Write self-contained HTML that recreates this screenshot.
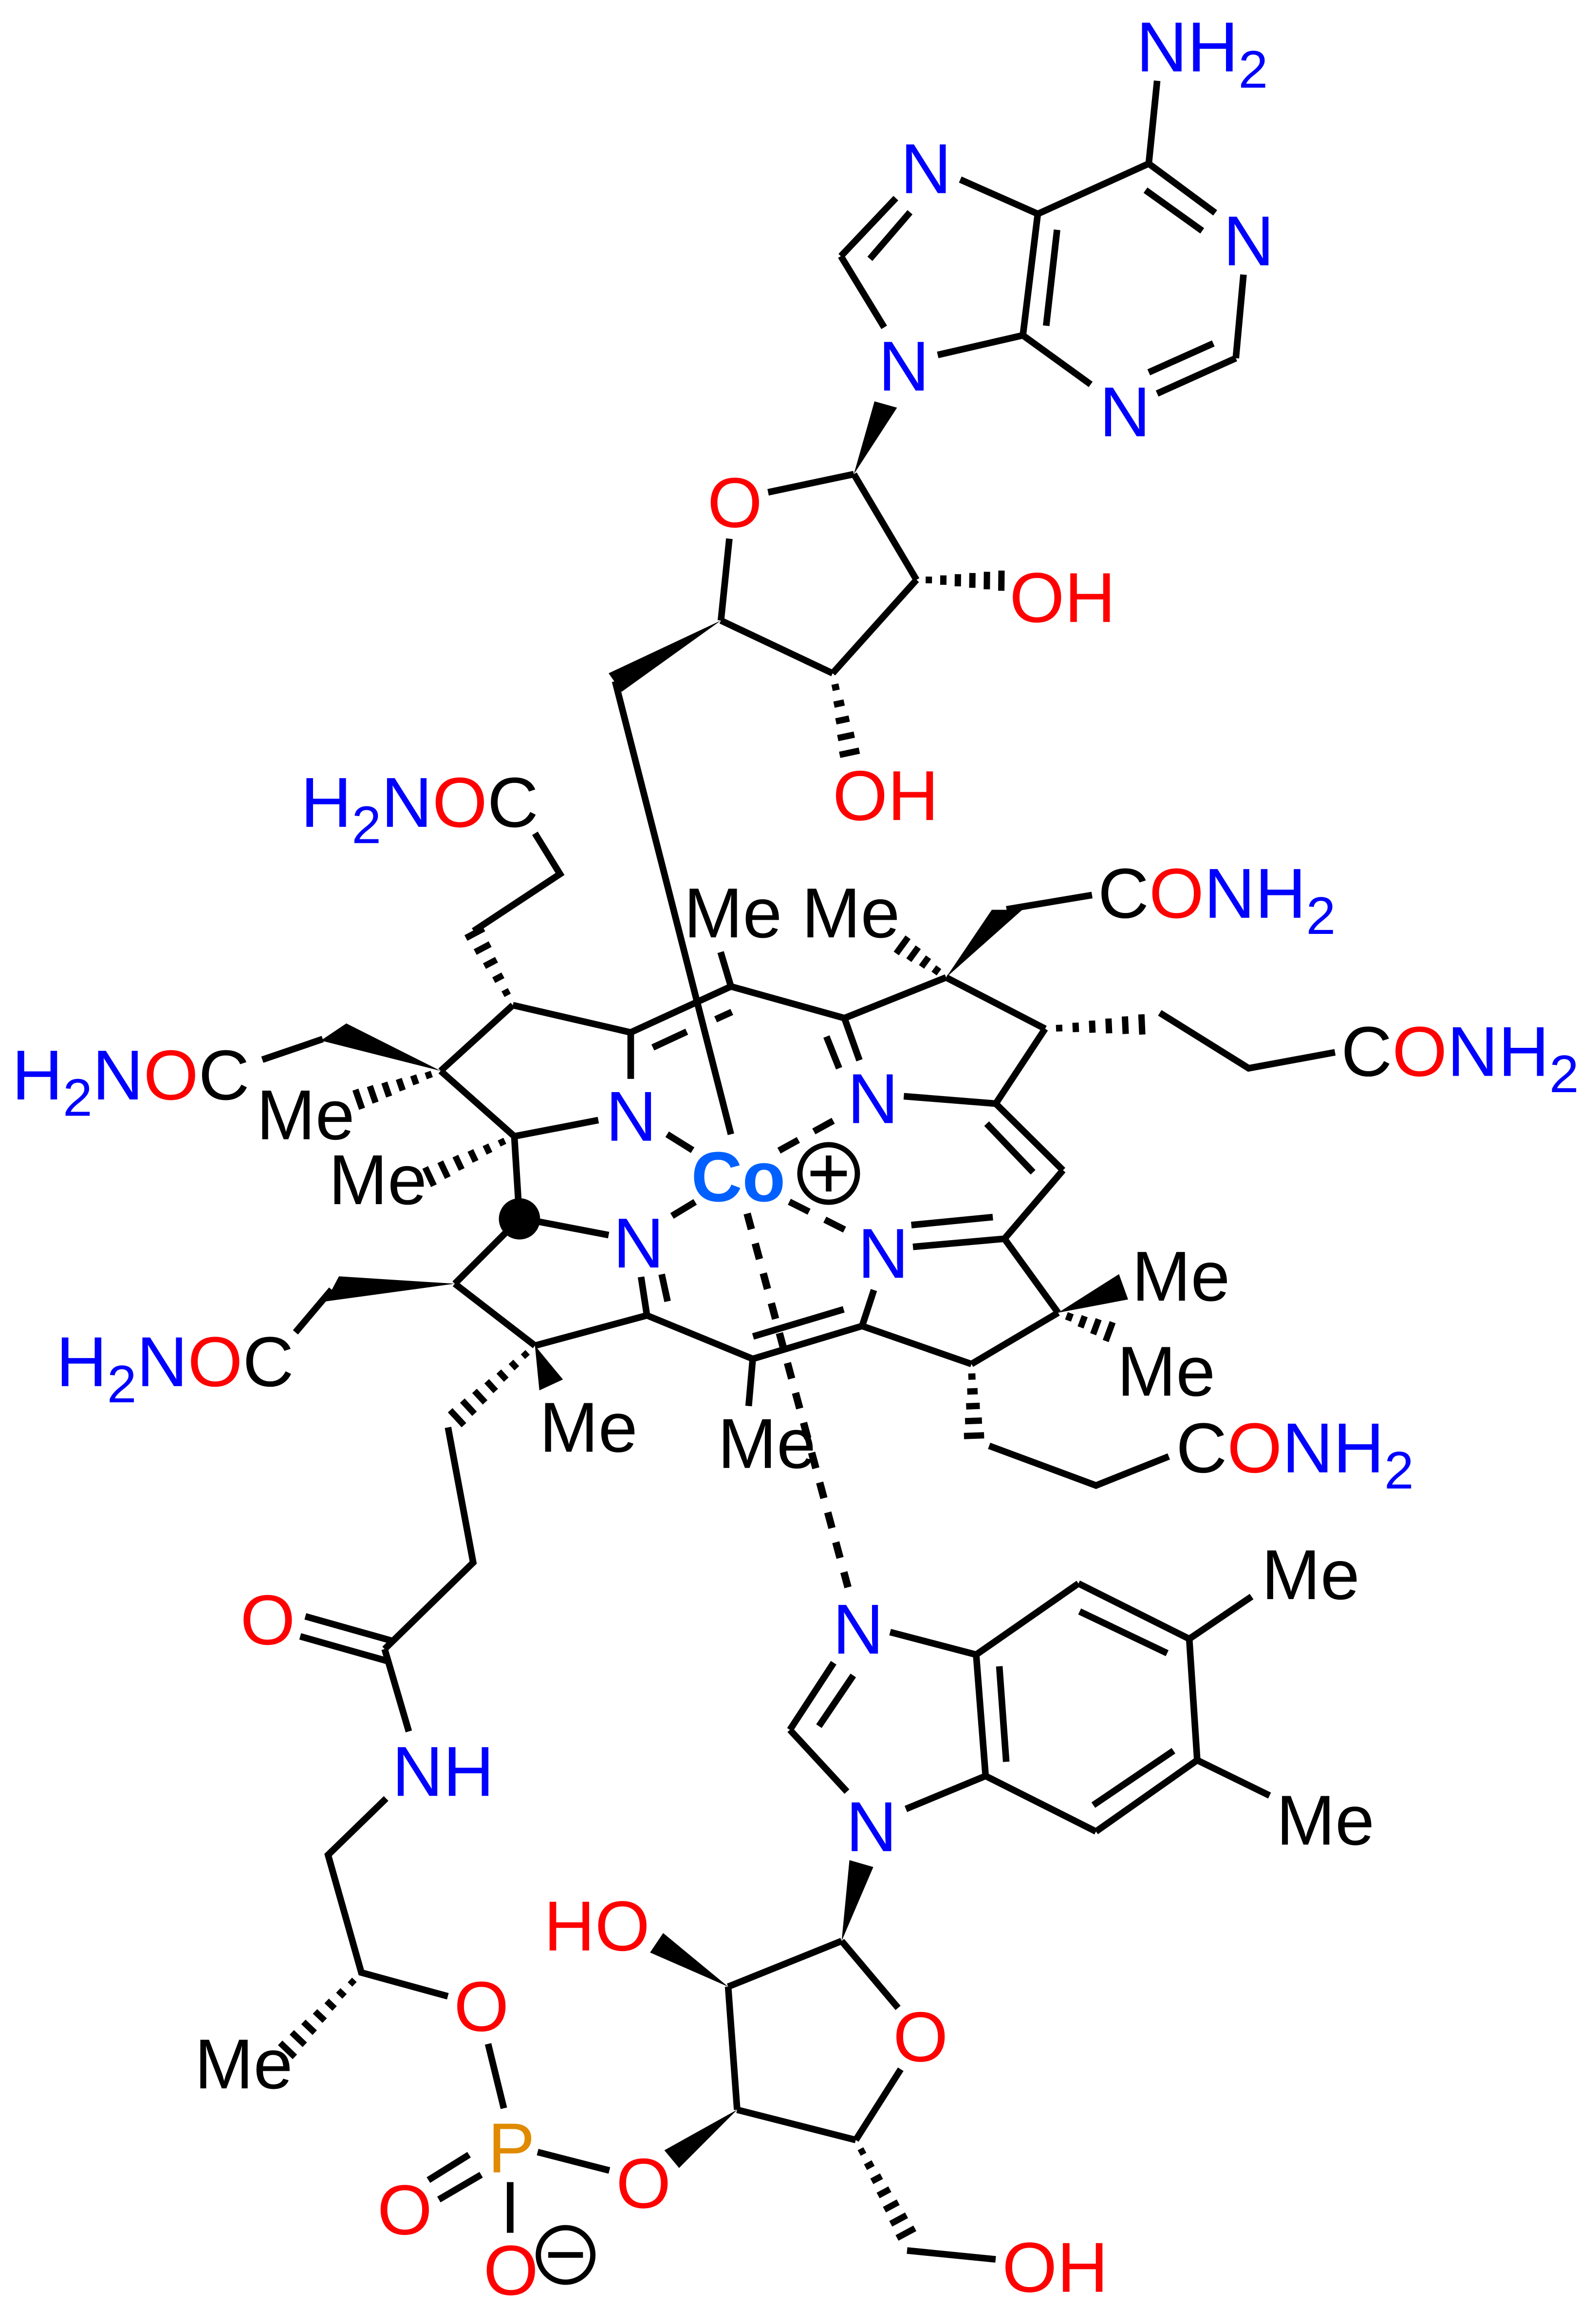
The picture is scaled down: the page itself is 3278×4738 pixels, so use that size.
<!DOCTYPE html>
<html><head><meta charset="utf-8"><style>
html,body{margin:0;padding:0;background:#fff;}
svg{display:block;}
text{font-family:"Liberation Sans",Arial,sans-serif;font-size:48px;}
.b{fill:#0000ff}.r{fill:#ff0000}.k{fill:#000}
</style></head><body>
<svg id="s" xmlns="http://www.w3.org/2000/svg" width="3278" height="4738" viewBox="0 0 1083 1565.3">
<rect width="1083" height="1565.3" fill="#fff"/>
<g id="bonds" stroke="#000" stroke-width="4.5" stroke-linecap="butt" fill="none">
<line x1="785.2" y1="54.8" x2="779.5" y2="111"/>
<line x1="779.5" y1="111" x2="824.6" y2="144.4"/>
<line x1="777.3" y1="129" x2="815.8" y2="156.6"/>
<line x1="843.8" y1="186.3" x2="838.6" y2="243"/>
<line x1="838.6" y1="243" x2="785.2" y2="267"/>
<line x1="823.3" y1="233" x2="779.5" y2="252.6"/>
<line x1="740.1" y1="260.8" x2="694.1" y2="227.5"/>
<line x1="694.1" y1="227.5" x2="704.2" y2="145.1"/>
<line x1="717.3" y1="155.9" x2="709.9" y2="221"/>
<line x1="704.2" y1="145.1" x2="779.5" y2="111"/>
<line x1="704.2" y1="145.1" x2="651.6" y2="121.8"/>
<line x1="607.9" y1="134.4" x2="570.6" y2="173.8"/>
<line x1="617.5" y1="144" x2="590.3" y2="175.6"/>
<line x1="570.6" y1="173.8" x2="600" y2="222.1"/>
<line x1="636.3" y1="240.8" x2="694.1" y2="227.5"/>
<line x1="521.2" y1="334" x2="579.4" y2="321.7"/>
<line x1="494.9" y1="365.5" x2="489.2" y2="421"/>
<line x1="579.4" y1="321.7" x2="621.9" y2="393.4"/>
<line x1="621.9" y1="393.4" x2="565" y2="456.8"/>
<line x1="565" y1="456.8" x2="489.2" y2="421"/>
<line x1="417.4" y1="462.2" x2="496" y2="769.6"/>
<line x1="406" y1="760" x2="349" y2="771"/>
<line x1="349" y1="771" x2="299" y2="726.6"/>
<line x1="299" y1="726.6" x2="348" y2="682"/>
<line x1="348" y1="682" x2="428" y2="700.5"/>
<line x1="428" y1="700.5" x2="428" y2="732"/>
<line x1="428" y1="700.5" x2="496" y2="669.3"/>
<line x1="443" y1="710.7" x2="466" y2="700"/>
<line x1="485.6" y1="691.6" x2="496.6" y2="686.6"/>
<line x1="489" y1="646" x2="496" y2="669.3"/>
<line x1="496" y1="669.3" x2="573" y2="690.8"/>
<line x1="573" y1="690.8" x2="583.2" y2="719.4"/>
<line x1="560.8" y1="703.3" x2="569.4" y2="724.8"/>
<line x1="573" y1="690.8" x2="642" y2="663.2"/>
<line x1="642" y1="663.2" x2="709.2" y2="698"/>
<line x1="709.2" y1="698" x2="675.7" y2="748.8"/>
<line x1="613.3" y1="743.8" x2="675.7" y2="748.8"/>
<line x1="675.7" y1="748.8" x2="721.3" y2="794"/>
<line x1="669.5" y1="762.4" x2="701" y2="795.4"/>
<line x1="721.3" y1="794" x2="681.6" y2="840.5"/>
<line x1="681.6" y1="840.5" x2="619.5" y2="846"/>
<line x1="618.4" y1="831.2" x2="673.7" y2="825.8"/>
<line x1="681.6" y1="840.5" x2="718" y2="890.7"/>
<line x1="718" y1="890.7" x2="659.2" y2="925.5"/>
<line x1="659.2" y1="925.5" x2="585" y2="899.7"/>
<line x1="585" y1="899.7" x2="593" y2="875.3"/>
<line x1="585" y1="899.7" x2="510.8" y2="922"/>
<line x1="572.5" y1="888.4" x2="511" y2="906.8"/>
<line x1="510.8" y1="922" x2="508" y2="954"/>
<line x1="510.8" y1="922" x2="439" y2="892.5"/>
<line x1="439" y1="892.5" x2="435" y2="866.4"/>
<line x1="453" y1="883" x2="449" y2="864.6"/>
<line x1="439" y1="892.5" x2="363" y2="913"/>
<line x1="363" y1="913" x2="308.6" y2="871"/>
<line x1="308.6" y1="871" x2="352.5" y2="827"/>
<line x1="352.5" y1="827" x2="349" y2="771"/>
<line x1="366" y1="829" x2="413" y2="838"/>
<line x1="219" y1="705" x2="178" y2="719"/>
<polyline points="321.4,631.7 380,593 363,565.4"/>
<line x1="683" y1="617" x2="741" y2="607.3"/>
<polyline points="787,687.2 847.3,724.8 905.9,714"/>
<polyline points="671.2,981 743.7,1007.9 793.1,988.2"/>
<line x1="225" y1="875" x2="200.5" y2="904"/>
<polyline points="304,968.5 321.1,1060.2 261,1118.9"/>
<line x1="207.2" y1="1096.7" x2="266.7" y2="1113.5"/>
<line x1="203.7" y1="1110.3" x2="263.1" y2="1127.1"/>
<line x1="261" y1="1118.9" x2="277.4" y2="1174.8"/>
<polyline points="262,1220.3 222.6,1258.6 245.2,1338.4 303.9,1354.5"/>
<line x1="331.2" y1="1386.8" x2="341.9" y2="1430.5"/>
<line x1="318.3" y1="1462" x2="290.7" y2="1479.2"/>
<line x1="326.5" y1="1475.6" x2="297.8" y2="1492.4"/>
<line x1="346.2" y1="1480.6" x2="346.2" y2="1515"/>
<line x1="364.8" y1="1460.2" x2="413.5" y2="1472.7"/>
<line x1="500.2" y1="1431.5" x2="494.1" y2="1348"/>
<line x1="494.1" y1="1348" x2="571.1" y2="1317"/>
<line x1="571.1" y1="1317" x2="609.4" y2="1362.4"/>
<line x1="611.2" y1="1404" x2="580.7" y2="1452"/>
<line x1="580.7" y1="1452" x2="500.2" y2="1431.5"/>
<line x1="615.5" y1="1527" x2="675.6" y2="1533"/>
<line x1="565.7" y1="1128.2" x2="536" y2="1173.7"/>
<line x1="579" y1="1136.8" x2="555.7" y2="1171.2"/>
<line x1="536" y1="1173.7" x2="574.7" y2="1215.6"/>
<line x1="614.7" y1="1227.4" x2="668.8" y2="1205"/>
<line x1="604" y1="1107.4" x2="662.4" y2="1122.7"/>
<line x1="662.4" y1="1122.7" x2="668.8" y2="1205"/>
<line x1="678.1" y1="1130.6" x2="682.8" y2="1195.4"/>
<line x1="662.4" y1="1122.7" x2="731.8" y2="1074.4"/>
<line x1="731.8" y1="1074.4" x2="807" y2="1112"/>
<line x1="732.6" y1="1093.4" x2="792" y2="1121.7"/>
<line x1="807" y1="1112" x2="849.3" y2="1083.3"/>
<line x1="807" y1="1112" x2="812.4" y2="1194.3"/>
<line x1="812.4" y1="1194.3" x2="861.5" y2="1218.3"/>
<line x1="812.4" y1="1194.3" x2="743.7" y2="1242.7"/>
<line x1="796.3" y1="1187.9" x2="741.9" y2="1224.8"/>
<line x1="743.7" y1="1242.7" x2="668.8" y2="1205"/>
<line x1="452.7" y1="769.6" x2="470" y2="780.4"/>
<line x1="456" y1="825" x2="471.7" y2="815.5"/>
<line x1="528.6" y1="780.7" x2="568.9" y2="758.5" stroke-dasharray="15 12"/>
<line x1="535.6" y1="815.4" x2="576.5" y2="836" stroke-dasharray="15 12"/>
<line x1="507" y1="823.4" x2="575.4" y2="1077" stroke-dasharray="11 10" stroke-width="5"/>
</g>
<g fill="#000" stroke="none">
<polygon points="579.4,321.7 593.4,272.3 608.7,276.6"/>
<polygon points="489.2,421 413,456.8 421.8,469.4"/>
<polygon points="299,726.6 217.7,706 235,694.4"/>
<polygon points="642,663.2 673,617.3 693.7,617.3"/>
<polygon points="718,890.7 759.3,864.5 765.5,881.7"/>
<polygon points="308.6,871 221,883 230,866"/>
<polygon points="363,913 366,943.4 382,936"/>
<polygon points="500.2,1431.5 450.8,1459 460.8,1471"/>
<polygon points="494.1,1348 441.1,1324.8 450,1311.6"/>
<polygon points="571.1,1317 576.4,1262.1 592.6,1266.8"/>
<circle cx="352.5" cy="827" r="14"/>
</g>
<g id="hashes" stroke="#000" stroke-width="4.3"></g>
<circle cx="562.3" cy="796.2" r="19.5" fill="none" stroke="#000" stroke-width="3.6"/>
<line x1="550" y1="796.2" x2="574.6" y2="796.2" stroke="#000" stroke-width="3.8"/>
<line x1="562.3" y1="784" x2="562.3" y2="808.4" stroke="#000" stroke-width="3.8"/>
<circle cx="383.8" cy="1530" r="18.5" fill="none" stroke="#000" stroke-width="3.6"/>
<line x1="372" y1="1530" x2="395.6" y2="1530" stroke="#000" stroke-width="3.8"/>
<text x="771" y="48.4" class="b">NH<tspan font-size="36" dy="11">2</tspan></text>
<text x="830" y="180" class="b">N</text>
<text x="746" y="296" class="b">N</text>
<text x="611" y="131" class="b">N</text>
<text x="596" y="265" class="b">N</text>
<text x="480" y="357.6" class="r">O</text>
<text x="685" y="422" class="r">OH</text>
<text x="565" y="556.4" class="r">OH</text>
<text x="204" y="561"><tspan class="b">H</tspan><tspan class="b" font-size="36" dy="11">2</tspan><tspan class="b" dy="-11">N</tspan><tspan class="r">O</tspan><tspan class="k">C</tspan></text>
<text x="8" y="746"><tspan class="b">H</tspan><tspan class="b" font-size="36" dy="11">2</tspan><tspan class="b" dy="-11">N</tspan><tspan class="r">O</tspan><tspan class="k">C</tspan></text>
<text x="38" y="940.5"><tspan class="b">H</tspan><tspan class="b" font-size="36" dy="11">2</tspan><tspan class="b" dy="-11">N</tspan><tspan class="r">O</tspan><tspan class="k">C</tspan></text>
<text x="464" y="636" class="k">Me</text>
<text x="544" y="636" class="k">Me</text>
<text x="174" y="773" class="k">Me</text>
<text x="223" y="817" class="k">Me</text>
<text x="411" y="774" class="b">N</text>
<text x="416" y="860" class="b">N</text>
<text x="575" y="762" class="b">N</text>
<text x="582" y="867" class="b">N</text>
<text x="469" y="815" fill="#0060ff" font-weight="bold">Co</text>
<text x="745" y="622.7"><tspan class="k">C</tspan><tspan class="r">O</tspan><tspan class="b">NH</tspan><tspan class="b" font-size="36" dy="11">2</tspan></text>
<text x="910" y="730"><tspan class="k">C</tspan><tspan class="r">O</tspan><tspan class="b">NH</tspan><tspan class="b" font-size="36" dy="11">2</tspan></text>
<text x="798" y="999"><tspan class="k">C</tspan><tspan class="r">O</tspan><tspan class="b">NH</tspan><tspan class="b" font-size="36" dy="11">2</tspan></text>
<text x="768" y="882.5" class="k">Me</text>
<text x="758" y="947" class="k">Me</text>
<text x="366" y="985" class="k">Me</text>
<text x="487" y="996" class="k">Me</text>
<text x="163" y="1115.7" class="r">O</text>
<text x="266" y="1218.5" class="b">NH</text>
<text x="132" y="1417" class="k">Me</text>
<text x="308" y="1378" class="r">O</text>
<text x="331" y="1474" fill="#e08a00">P</text>
<text x="256" y="1516" class="r">O</text>
<text x="328" y="1557" class="r">O</text>
<text x="418" y="1498" class="r">O</text>
<text x="369" y="1323.4" class="r">HO</text>
<text x="565" y="1122" class="b">N</text>
<text x="574" y="1256" class="b">N</text>
<text x="606" y="1398.6" class="r">O</text>
<text x="856" y="1085" class="k">Me</text>
<text x="866" y="1251.6" class="k">Me</text>
<text x="680" y="1555" class="r">OH</text>
</svg>
<script>
(function(){
var g=document.getElementById('hashes');
var H=[[621.9,393.4,681,394],[565,456.8,576.8,512.4],[299,726.6,242,746.3],[349,771,290,799],
[348,682,321.4,631.7],[642,663.2,611,640.6],[709.2,698,776.5,695],[718,890.7,754,904],
[659.2,925.5,661,975.6],[363,913,309,963],[245.2,1338.4,194,1392],[580.7,1452,615.5,1516.6]];
H.forEach(function(h){
 var dx=h[2]-h[0],dy=h[3]-h[1],L=Math.sqrt(dx*dx+dy*dy),ux=dx/L,uy=dy/L,px=-uy,py=ux;
 var n=Math.max(3,Math.round(L/10.5));
 for(var i=1;i<=n;i++){var t=(i-0.15)/n;var cx=h[0]+dx*t,cy=h[1]+dy*t;var w=1.5+t*5.5;
  var l=document.createElementNS('http://www.w3.org/2000/svg','line');
  l.setAttribute('x1',cx+px*w);l.setAttribute('y1',cy+py*w);l.setAttribute('x2',cx-px*w);l.setAttribute('y2',cy-py*w);
  g.appendChild(l);}
});
})();
</script>
</body></html>
